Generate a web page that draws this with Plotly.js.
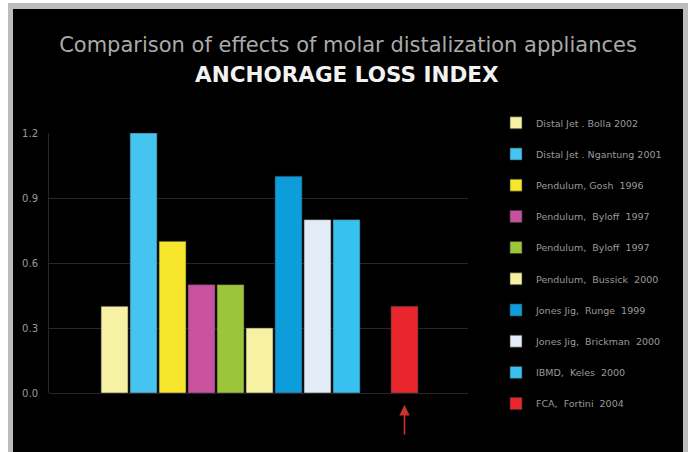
<!DOCTYPE html>
<html>
<head>
<meta charset="utf-8">
<script src="https://cdn.plot.ly/plotly-3.0.1.min.js"></script>
<style>
  html, body { margin:0; padding:0; background:#ffffff; width:691px; height:452px; overflow:hidden; }
  #frame { position:absolute; left:8px; top:3px; width:680px; height:449px; background:#bdbdbd; }
  #chart { position:absolute; left:13px; top:9px; width:670px; height:443px; }
</style>
</head>
<body>
<div id="frame"></div>
<div id="chart"></div>
<script>
const labels = [
  "Distal Jet . Bolla 2002",
  "Distal Jet . Ngantung 2001",
  "Pendulum, Gosh  1996",
  "Pendulum,  Byloff  1997",
  "Pendulum,  Byloff  1997",
  "Pendulum,  Bussick  2000",
  "Jones Jig,  Runge  1999",
  "Jones Jig,  Brickman  2000",
  "IBMD,  Keles  2000",
  "FCA,  Fortini  2004"
];
const positions = [1, 2, 3, 4, 5, 6, 7, 8, 9, 11];
const values = [0.4, 1.2, 0.7, 0.5, 0.5, 0.3, 1.0, 0.8, 0.8, 0.4];
const colors = ["#f7f1a3", "#45c4f0", "#f6e62c", "#c9529f", "#9dc53b", "#f7f1a3", "#0c9dda", "#e3ebf6", "#36c1ef", "#e8262b"];
const yTicks = [0, 0.3, 0.6, 0.9, 1.2];

const traces = labels.map((name, i) => ({
  type: "bar",
  x: [positions[i]],
  y: [values[i]],
  name: name,
  legendgroup: "g" + i,
  width: 0.93,
  marker: { color: colors[i], line: { color: "#3a3a3a", width: 0.6 } },
  hoverinfo: "skip"
}));

const layout = {
  width: 670,
  height: 443,
  paper_bgcolor: "#000000",
  plot_bgcolor: "#000000",
  margin: { l: 36, r: 215, t: 124, b: 59 },
  barmode: "overlay",
  showlegend: true,
  title: {
    text: "Comparison of effects of molar distalization appliances",
    font: { family: "'DejaVu Sans', sans-serif", size: 21, color: "#aaaaaa" },
    x: 0.5, xref: "container", xanchor: "center",
    y: 1 - 36 / 443, yref: "container", yanchor: "middle"
  },
  annotations: [
    {
      text: "<b>ANCHORAGE LOSS INDEX</b>",
      xref: "paper", yref: "paper",
      x: (334 - 36) / 419, y: (384 - 66) / 260,
      xanchor: "center", yanchor: "middle",
      showarrow: false,
      font: { family: "'DejaVu Sans', sans-serif", size: 21.5, color: "#f2f2f2" }
    },
    {
      text: "",
      x: positions[9], y: (384 - 396) / 260, xref: "x", yref: "paper",
      showarrow: true, arrowhead: 2, arrowsize: 1.3, arrowwidth: 1.6,
      arrowcolor: "#c8342c", ax: 0, ay: 31
    }
  ],
  xaxis: {
    range: [-1.26, 13.19],
    showticklabels: false,
    showgrid: false,
    zeroline: false,
    showline: false,
    ticks: "",
    fixedrange: true
  },
  yaxis: {
    range: [0, 1.2],
    tickvals: yTicks,
    ticktext: yTicks.map(v => v.toFixed(1)),
    tickfont: { family: "'DejaVu Sans', sans-serif", size: 10, color: "#9a9a9a" },
    gridcolor: "#2c2530",
    gridwidth: 1,
    showline: true,
    linecolor: "#2c2530",
    linewidth: 1,
    zeroline: true,
    zerolinecolor: "#2c2530",
    zerolinewidth: 1,
    ticks: "",
    ticklabelstandoff: 8,
    fixedrange: true
  },
  legend: {
    x: (496 - 49) / 419, xanchor: "left",
    y: 1.095, yanchor: "top",
    bgcolor: "rgba(0,0,0,0)",
    font: { family: "'DejaVu Sans', sans-serif", size: 9.5, color: "#9a9a9a" },
    tracegroupgap: 12.2,
    traceorder: "grouped",
    maxheight: 440
  }
};

Plotly.newPlot("chart", traces, layout, { displayModeBar: false, staticPlot: true });
</script>
</body>
</html>
